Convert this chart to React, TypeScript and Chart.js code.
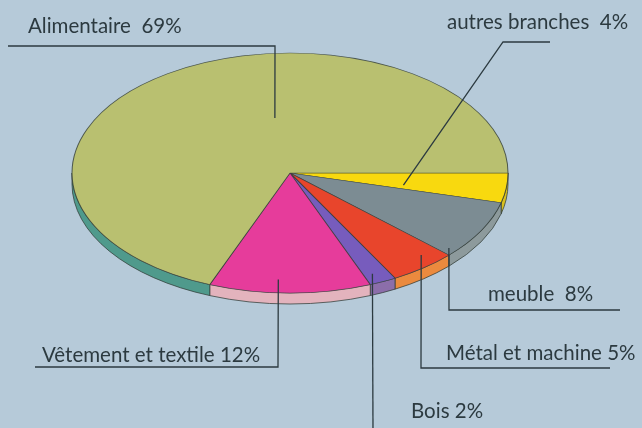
import React, { useEffect, useRef } from "react";
import { Chart, registerables } from "chart.js";

Chart.register(...registerables);

const categories = ["autres branches", "meuble", "Métal et machine", "Bois", "Vêtement et textile", "Alimentaire"];
const values = [4, 8, 5, 2, 12, 69];
const labelTexts = ["autres branches  4%", "meuble  8%", "Métal et machine 5%", "Bois 2%", "Vêtement et textile 12%", "Alimentaire  69%"];
const topColors = ["#f8d90f", "#7c8c93", "#e8452c", "#775cbd", "#e63c9b", "#b9c070"];
const sideColors = ["#d9c020", "#8d9a9c", "#eb8a3e", "#8c6eaa", "#e3b3bd", "#4f9a8c"];

// geometry of the tilted pie
const CX = 290, CY = 173, RX = 218, RY = 120, DEPTH = 11;

// label layout: anchor (t within slice, r radial fraction), path after anchor, text position
type LabelLayout = { t: number; r: number; path: [number, number][]; tx: number; ty: number };
const layouts: LabelLayout[] = [
  { t: 0.76, r: 0.53, path: [[503, 42], [550, 42]], tx: 447, ty: 29 },
  { t: 0.91, r: 0.96, path: [[449, 310], [620, 310]], tx: 488, ty: 301 },
  { t: 0.3, r: 0.91, path: [[421, 368], [610, 368]], tx: 446, ty: 360 },
  { t: 0.63, r: 0.92, path: [[373, 430]], tx: 411, ty: 418 },
  { t: 0.58, r: 0.89, path: [[278, 367], [35, 367]], tx: 42, ty: 362 },
  { t: 0.603, r: 0.463, path: [[275, 46], [8, 46]], tx: 28, ty: 33 },
];

const FONT = '20.5px Lato, "Open Sans", sans-serif';
const INK = "#2c3a40";

const tiltPlugin = {
  id: "tilt",
  beforeDatasetsDraw(chart: any) {
    const meta = chart.getDatasetMeta(0);
    const ctx: CanvasRenderingContext2D = chart.ctx;
    const first = meta.data[0];
    const { x, y, outerRadius } = first.getProps(["x", "y", "outerRadius"], true);
    // side walls (front half only)
    ctx.save();
    ctx.lineWidth = 1;
    ctx.strokeStyle = "rgba(50,60,55,0.75)";
    meta.data.forEach((el: any, i: number) => {
      const { startAngle, endAngle } = el.getProps(["startAngle", "endAngle"], true);
      const s = Math.max(startAngle, 0);
      const e = Math.min(endAngle, Math.PI);
      if (e <= s) return;
      ctx.beginPath();
      ctx.ellipse(CX, CY, RX, RY, 0, s, e);
      ctx.ellipse(CX, CY + DEPTH, RX, RY, 0, e, s, true);
      ctx.closePath();
      ctx.fillStyle = sideColors[i];
      ctx.fill();
      ctx.stroke();
    });
    ctx.restore();
    ctx.save();
    ctx.translate(CX, CY);
    ctx.scale(RX / outerRadius, RY / outerRadius);
    ctx.translate(-x, -y);
  },
  afterDatasetsDraw(chart: any) {
    chart.ctx.restore();
  },
  afterDraw(chart: any) {
    const meta = chart.getDatasetMeta(0);
    const ctx: CanvasRenderingContext2D = chart.ctx;
    ctx.save();
    ctx.strokeStyle = INK;
    ctx.lineWidth = 1.3;
    ctx.fillStyle = INK;
    ctx.font = FONT;
    ctx.textBaseline = "alphabetic";
    ctx.textAlign = "left";
    meta.data.forEach((el: any, i: number) => {
      const { startAngle, endAngle } = el.getProps(["startAngle", "endAngle"], true);
      const L = layouts[i];
      const a = startAngle + (endAngle - startAngle) * L.t;
      const ax = CX + RX * L.r * Math.cos(a);
      const ay = CY + RY * L.r * Math.sin(a);
      ctx.beginPath();
      ctx.moveTo(ax, ay);
      L.path.forEach(([px, py]) => ctx.lineTo(px, py));
      ctx.stroke();
      ctx.fillText(labelTexts[i], L.tx, L.ty);
    });
    ctx.restore();
  },
};

export default function App() {
  const ref = useRef<HTMLCanvasElement | null>(null);
  useEffect(() => {
    if (!ref.current) return;
    const chart = new Chart(ref.current, {
      type: "pie",
      data: {
        labels: categories,
        datasets: [
          {
            data: values,
            backgroundColor: topColors,
            borderColor: "rgba(50,60,55,0.8)",
            borderWidth: 1,
            clip: false as any,
          },
        ],
      },
      options: {
        responsive: false,
        animation: false,
        events: [],
        rotation: 90,
        layout: { padding: 0 },
        plugins: { legend: { display: false }, tooltip: { enabled: false } },
      },
      plugins: [tiltPlugin],
    });
    return () => chart.destroy();
  }, []);
  return (
    <div style={{ position: "absolute", left: 0, top: 0, width: 642, height: 428, background: "#b6cad9" }}>
      <canvas ref={ref} width={642} height={428} />
    </div>
  );
}
